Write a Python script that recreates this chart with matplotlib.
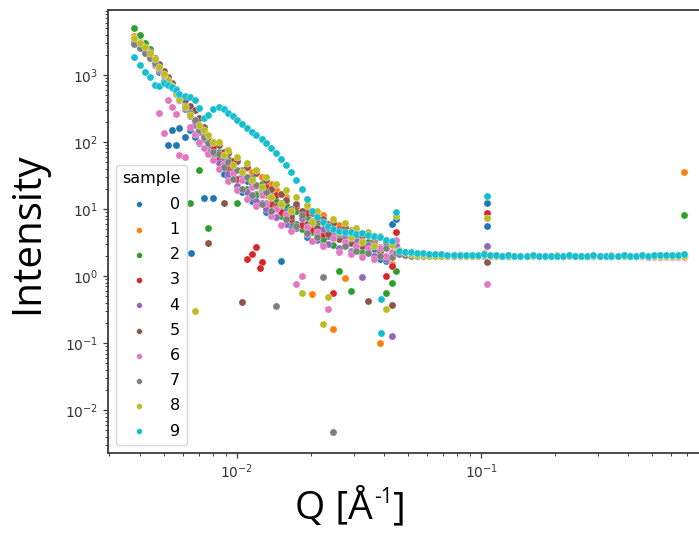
import matplotlib
matplotlib.use('Agg')
import matplotlib.pyplot as plt

# ---------------- data ----------------
samples = ['0', '1', '2', '3', '4', '5', '6', '7', '8', '9']

low_q = [0.0038, 0.0040, 0.0042, 0.0044, 0.0046, 0.0048, 0.0050, 0.0052, 0.0054, 0.0056,
         0.0058, 0.0061, 0.0064, 0.0067, 0.0070, 0.0073, 0.0076, 0.0080, 0.0084, 0.0088,
         0.0092, 0.0096, 0.0100, 0.0105, 0.0110, 0.0115, 0.0120, 0.0126, 0.0132, 0.0138,
         0.0145, 0.0152, 0.0159, 0.0167, 0.0175, 0.0184, 0.0193, 0.0203, 0.0213, 0.0224,
         0.0236, 0.0248, 0.0262, 0.0276, 0.0292, 0.0308, 0.0326, 0.0345, 0.0365, 0.0386,
         0.0408, 0.0430, 0.0450]

flat_q = [0.0460, 0.0488, 0.0516, 0.0547, 0.0579, 0.0614, 0.0649, 0.0687, 0.0728, 0.0771,
          0.0817, 0.0865, 0.0916, 0.0970, 0.1028, 0.1089, 0.1153, 0.1219, 0.1291, 0.1368,
          0.1449, 0.1535, 0.1626, 0.1722, 0.1824, 0.1932, 0.2042, 0.2163, 0.2291, 0.2427,
          0.2570, 0.2723, 0.2884, 0.3055, 0.3236, 0.3420, 0.3622, 0.3837, 0.4064, 0.4305,
          0.4560, 0.4831, 0.5117, 0.5420, 0.5741, 0.6081, 0.6427, 0.6808]

s0_low = [3300, 2700, 2250, 1800, 1400, 1100, 800, 90, 150, 90, 160, 118, 150, 120, 95, 14.6,
          70, 14.6, 52, 33, 30, 38, 22, 18, 26, 13, 17, 12.5, 9.0, 14, 7.5, 1.7, 10, 5.5,
          6.0, 8.0, 3.8, 4.9, 5.6, 3.0, 3.9, 4.6, 2.5, 3.3, 2.4, 3.6, 2.1, 2.8, 2.5, 1.8,
          1.7, 6.0, 7.0]
s1_low = [3800, 3100, 2500, 2100, 1700, 1300, 1000, 800, 650, 520, 420, 330, 260, 200, 160,
          135, 118, 95, 95, 60, 70, 42, 55, 30, 41, 36, 22, 30, 16, 24, 19, 11, 15, 8.5,
          12, 7.0, 10, 0.54, 5.5, 8.2, 4.4, 0.16, 5.8, 0.93, 4.8, 3.0, 4.2, 2.6, 3.5, 0.10,
          2.9, 1.5, 2.8]
s2_low = [5000, 3900, 3000, 2400, 1800, 1400, 1050, 820, 660, 530, 430, 330, 12.3, 190, 38,
          120, 5.2, 80, 70, 45, 55, 30, 12.5, 38, 20, 29, 16, 24, 10.5, 17, 13, 8.0, 11.5,
          6.5, 9.5, 5.0, 7.5, 4.6, 6.2, 3.6, 5.2, 2.9, 1.2, 4.4, 0.6, 3.8, 2.3, 3.2, 2.0,
          2.7, 0.56, 0.8, 1.2]
s3_low = [3000, 2600, 2200, 1900, 1600, 1300, 1000, 830, 700, 560, 470, 360, 270, 210, 160,
          130, 105, 85, 58, 72, 40, 52, 28, 37, 1.8, 2.1, 2.7, 1.6, 21, 12, 16, 9.0, 13.5,
          7.2, 11, 5.8, 8.8, 4.9, 7.2, 4.2, 6.0, 0.56, 5.0, 3.2, 4.6, 2.7, 4.0, 2.4, 3.3,
          2.2, 1.0, 1.4, 4.5]
s4_low = [3200, 2700, 2300, 1950, 1500, 1200, 980, 780, 640, 520, 430, 310, 240, 180, 140,
          110, 90, 66, 48, 58, 33, 40, 22, 31, 18, 25, 13, 19, 10, 15, 7.6, 11.5, 6.0, 9.0,
          5.2, 7.4, 4.2, 6.1, 3.5, 5.0, 3.0, 4.4, 2.6, 3.8, 2.3, 3.3, 0.97, 2.9, 2.0, 2.6,
          1.8, 0.13, 2.9]
s5_low = [3100, 2800, 2500, 2200, 1800, 1450, 1150, 930, 760, 620, 510, 420, 350, 300, 230,
          170, 3.1, 100, 90, 12.3, 68, 40, 52, 0.41, 42, 24, 35, 17, 27, 20, 11, 17, 13.5,
          8.0, 12, 9.5, 6.0, 8.8, 5.2, 7.0, 4.3, 6.2, 3.6, 5.4, 3.1, 4.5, 2.8, 0.42, 3.8,
          2.4, 3.2, 0.37, 2.2]
s6_low = [3600, 3000, 2400, 1900, 1400, 270, 135, 420, 330, 260, 64, 60, 170, 130, 100, 80,
          66, 54, 40, 47, 26, 34, 19, 27, 14, 21, 11, 16, 12.5, 7.8, 10, 5.8, 8.4, 4.7,
          0.76, 1.0, 5.4, 3.3, 4.6, 2.8, 0.32, 3.7, 2.3, 3.2, 2.1, 2.8, 1.9, 2.5, 1.8, 2.6,
          2.0, 2.3, 3.5]
s7_low = [2900, 2500, 2100, 1800, 1500, 1250, 1000, 800, 650, 520, 430, 340, 270, 210, 150,
          120, 98, 72, 66, 42, 50, 28, 38, 20, 30, 16, 23, 12, 18, 9.5, 0.36, 12.5, 7.0, 10,
          5.5, 8.2, 4.4, 6.6, 3.8, 0.97, 5.2, 0.0047, 4.2, 2.8, 3.7, 2.4, 3.3, 2.2, 3.0,
          2.0, 2.6, 1.9, 2.2]
s8_low = [3500, 3000, 2600, 2150, 1700, 1300, 1050, 850, 680, 540, 440, 330, 250, 0.30, 180,
          150, 125, 100, 100, 64, 75, 45, 60, 36, 48, 27, 38, 21, 30, 15, 24, 12, 19, 9.5,
          15, 0.56, 11.5, 6.5, 9.2, 0.19, 0.49, 7.2, 4.5, 6.2, 3.8, 5.3, 3.2, 4.6, 2.8, 3.9,
          0.32, 2.9, 8.0]
s9_low = [1860, 1400, 1100, 930, 700, 680, 760, 720, 650, 600, 520, 480, 470, 430, 320, 225,
          250, 310, 334, 310, 275, 240, 215, 185, 160, 142, 125, 110, 95, 82, 68, 55, 46, 36,
          27, 20, 14, 9.5, 7.5, 6.5, 5.6, 5.0, 4.7, 4.5, 4.6, 4.3, 4.4, 4.1, 4.0, 3.8, 3.5,
          3.3, 9.0]

s0_flat = [2.25, 2.15, 2.08, 2.05, 2.02, 2.0, 1.98, 2.01, 1.99, 2.0, 1.98, 2.01, 2.0, 1.99,
           2.02, 2.0, 1.98, 2.01, 1.99, 2.0, 2.01, 1.98, 2.0, 1.99, 2.01, 2.0, 1.98, 2.0, 2.01,
           1.99, 2.0, 1.98, 2.01, 2.0, 1.99, 2.0, 2.01, 1.98, 2.0, 1.99, 2.0, 2.01, 1.98,
           1.99, 2.0, 1.98, 1.97, 1.96]
s1_flat = [2.3, 2.12, 2.05, 2.03, 2.0, 1.98, 2.0, 1.97, 2.0, 1.99, 2.01, 1.98, 2.0, 1.97,
           2.05, 1.99, 2.0, 1.98, 2.0, 1.97, 1.99, 2.0, 1.98, 2.01, 1.98, 2.0, 1.99, 1.97, 2.0,
           1.98, 1.99, 2.0, 1.97, 1.99, 2.0, 1.98, 1.97, 1.99, 1.98, 2.0, 1.97, 1.98, 1.99,
           1.96, 1.97, 1.95, 1.94, 1.92]
s2_flat = [2.4, 2.2, 2.1, 2.04, 2.02, 2.01, 1.99, 2.0, 2.02, 1.99, 2.0, 2.01, 1.99, 2.0, 2.08,
           2.01, 1.99, 2.0, 2.02, 1.99, 2.0, 2.01, 1.99, 2.0, 2.02, 1.99, 2.0, 2.01, 1.99, 2.0,
           2.02, 1.99, 2.0, 2.01, 1.99, 2.0, 2.02, 1.99, 2.0, 2.01, 1.99, 2.0, 2.02, 1.99, 2.0,
           1.98, 1.99, 1.97]
s3_flat = [2.2, 2.1, 2.06, 2.03, 2.01, 2.0, 2.02, 1.99, 2.0, 2.01, 1.99, 2.0, 2.02, 1.99, 2.1,
           2.0, 2.01, 1.99, 2.0, 2.02, 1.99, 2.0, 2.01, 1.99, 2.0, 2.02, 1.99, 2.0, 2.01, 1.99,
           2.0, 2.02, 1.99, 2.0, 2.01, 1.99, 2.0, 2.02, 1.99, 2.0, 2.01, 1.99, 2.0, 2.02, 1.99,
           2.0, 1.99, 1.98]
s4_flat = [2.35, 2.18, 2.07, 2.04, 2.0, 2.01, 1.99, 2.0, 2.01, 1.98, 2.0, 2.01, 1.99, 2.02,
           2.15, 2.0, 1.99, 2.01, 2.0, 1.98, 2.01, 2.0, 1.99, 2.01, 2.0, 1.98, 2.01, 2.0, 1.99,
           2.01, 2.0, 1.98, 2.01, 2.0, 1.99, 2.01, 2.0, 1.98, 2.01, 2.0, 1.99, 2.01, 2.0, 1.98,
           2.0, 1.99, 1.98, 1.97]
s5_flat = [2.2, 2.08, 2.03, 2.0, 1.98, 2.0, 1.99, 1.97, 2.0, 1.98, 1.99, 2.0, 1.97, 2.0, 2.2,
           1.98, 2.0, 1.99, 1.97, 2.0, 1.98, 1.99, 2.0, 1.97, 2.0, 1.98, 1.99, 2.0, 1.97, 2.0,
           1.98, 1.99, 2.0, 1.97, 1.99, 1.98, 1.97, 1.99, 1.98, 1.97, 1.98, 1.96, 1.97, 1.95,
           1.96, 1.94, 1.93, 1.9]
s6_flat = [2.3, 2.14, 2.06, 2.02, 2.0, 2.01, 1.98, 2.0, 1.99, 2.01, 1.98, 2.0, 1.99, 2.01,
           2.12, 1.99, 2.0, 1.98, 2.01, 1.99, 2.0, 1.98, 2.01, 1.99, 2.0, 1.98, 2.01, 1.99, 2.0,
           1.98, 2.01, 1.99, 2.0, 1.98, 2.01, 1.99, 2.0, 1.98, 1.99, 1.98, 1.97, 1.99, 1.96,
           1.97, 1.95, 1.96, 1.93, 1.91]
s7_flat = [2.15, 2.06, 2.02, 2.0, 2.01, 1.99, 2.0, 2.02, 1.99, 2.0, 2.01, 1.99, 2.0, 2.02,
           2.05, 1.99, 2.0, 2.01, 1.99, 2.0, 2.02, 1.99, 2.0, 2.01, 1.99, 2.0, 2.02, 1.99, 2.0,
           2.01, 1.99, 2.0, 2.02, 1.99, 2.0, 2.01, 1.99, 2.0, 2.02, 1.99, 2.0, 2.01, 1.99, 2.0,
           1.99, 1.98, 1.98, 1.97]
s8_flat = [2.45, 2.25, 2.12, 2.06, 2.03, 2.01, 2.02, 2.0, 2.01, 2.03, 2.0, 2.02, 2.01, 2.0,
           2.18, 2.02, 2.0, 2.01, 2.03, 2.0, 2.02, 2.01, 2.0, 2.02, 2.01, 2.0, 2.03, 2.01, 2.0,
           2.02, 2.01, 2.0, 2.02, 2.01, 2.0, 2.03, 2.01, 2.0, 2.02, 2.01, 2.0, 2.02, 2.01, 2.0,
           2.01, 2.0, 1.99, 1.98]
s9_flat = [2.38, 2.32, 2.27, 2.22, 2.18, 2.15, 2.12, 2.1, 2.08, 2.06, 2.05, 2.04, 2.05, 2.07,
           2.12, 2.06, 2.03, 2.02, 2.03, 2.01, 2.02, 2.0, 2.03, 2.01, 2.02, 2.0, 2.02, 2.01,
           2.03, 2.0, 2.02, 2.01, 2.03, 2.02, 2.0, 2.02, 2.01, 2.03, 2.02, 2.01, 2.03, 2.02,
           2.04, 2.03, 2.05, 2.06, 2.08, 2.12]

# isolated points (spikes at the detector edges)
extra_sample = [9, 0, 3, 8, 0, 4, 5, 6, 1, 2, 9, 9, 3, 0]
extra_q = [0.106, 0.106, 0.106, 0.106, 0.1055, 0.106, 0.106, 0.106, 0.68, 0.68,
           0.039, 0.0387, 0.0124, 0.0065]
extra_i = [15.5, 12.5, 8.7, 7.3, 5.6, 2.8, 1.6, 0.76, 35.5, 8.1, 0.45, 0.14, 1.3, 2.2]

low_sets = [s0_low, s1_low, s2_low, s3_low, s4_low, s5_low, s6_low, s7_low, s8_low, s9_low]
flat_sets = [s0_flat, s1_flat, s2_flat, s3_flat, s4_flat, s5_flat, s6_flat, s7_flat,
             s8_flat, s9_flat]

# ---------------- figure ----------------
W, H = 699, 535
fig = plt.figure(figsize=(W / 100, H / 100), dpi=100)
ax = fig.add_axes([108 / W, (H - 453) / H, 600 / W, 443 / H])
colors = plt.get_cmap('tab10').colors

for k, name in enumerate(samples):
    qs = list(low_q) + list(flat_q)
    vals = list(low_sets[k]) + list(flat_sets[k])
    for s, q, v in zip(extra_sample, extra_q, extra_i):
        if s == k:
            qs.append(q)
            vals.append(v)
    ax.scatter(qs, vals, s=27, color=colors[k], edgecolors='white', linewidths=0.25,
               label=name, zorder=2)

ax.set_xscale('log')
ax.set_yscale('log')
ax.set_xlim(0.00296, 0.85)
ax.set_ylim(0.0023, 9300)

for sp in ax.spines.values():
    sp.set_color('#3c3c3c')
    sp.set_linewidth(1.3)
ax.tick_params(which='both', colors='#3c3c3c', labelcolor='#333333', labelsize=10)
ax.tick_params(which='major', length=3.5, width=0.9)
ax.tick_params(which='minor', length=2, width=0.7)

leg = ax.legend(title='sample', loc='lower left', fontsize=11.5, title_fontsize=11.5,
                markerscale=0.8, borderpad=0.4, handletextpad=0.9, labelspacing=0.64)

# big axis labels (added in a Calibri-like font in the reference)
fig.text(28 / W, 1 - 233 / H, 'Intensity', rotation=90, fontsize=29,
         family='Open Sans', ha='center', va='center')

renderer = fig.canvas.get_renderer()
t1 = fig.text(295 / W, 1 - 519 / H, 'Q [Å', fontsize=28, family='Open Sans',
              ha='left', va='baseline')
b1 = t1.get_window_extent(renderer)
t2 = fig.text((b1.x1 + 1) / W, 1 - 503 / H, '-1', fontsize=15, family='Open Sans',
              ha='left', va='baseline')
b2 = t2.get_window_extent(renderer)
fig.text((b2.x1 + 1) / W, 1 - 519 / H, ']', fontsize=28, family='Open Sans',
         ha='left', va='baseline')

fig.savefig('out.png', dpi=100)
